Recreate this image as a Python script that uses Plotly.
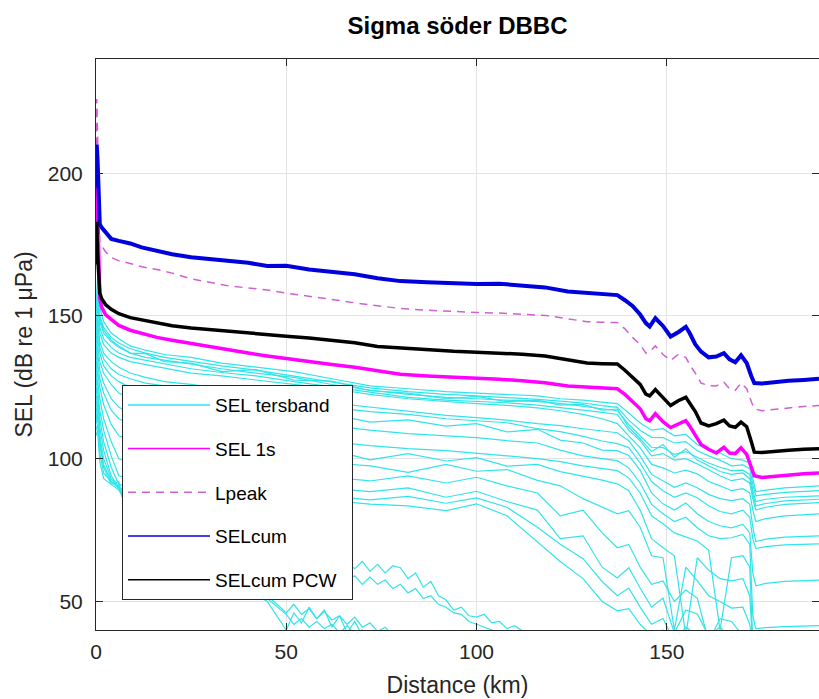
import plotly.graph_objects as go

# ---------------- data ----------------
dist_main = [0, 0.2, 0.4, 0.7, 1, 1.5, 2.5, 4, 6, 9, 12, 16, 20, 25, 30, 35, 40, 45, 50, 56,
             62, 68, 74, 80, 87, 94, 100, 106, 112, 118, 124, 129, 133, 137, 139, 141, 143, 144.5, 145.5, 147,
             149, 151, 153, 155, 156, 157.5, 159, 161, 163, 165, 166.5, 168, 169.5, 171, 172.2, 173, 175, 178, 182, 186,
             190]

sel_cum = [195, 210, 205, 195, 182, 181, 179.5, 177, 176.3, 175.4, 174, 172.8, 171.6, 170.6, 170, 169.3, 168.6, 167.5, 167.6, 166.3,
           165.6, 164.6, 163.2, 162.2, 161.8, 161.3, 161.2, 161.3, 160.8, 160, 158.6, 158, 157.6, 157.3, 155.5, 153.5, 150.5, 147.5, 146.3, 149.2,
           146.5, 142.8, 144.3, 146.2, 144, 140, 137.5, 135.5, 135.8, 137, 134.8, 133.8, 136.2, 133.5, 129, 126.5, 126.3, 126.8, 127.3, 127.6,
           128]

sel_cum_pcw = [168, 183, 172, 162, 158, 156, 154, 152.3, 150.8, 149.4, 148.6, 147.8, 146.6, 145.8, 145.2, 144.6, 143.9, 143.5, 142.9, 142.3,
               141.5, 140.6, 139.3, 138.7, 138.1, 137.6, 137.3, 137.1, 136.6, 136, 134.8, 133.5, 133.3, 133.2, 131, 128.7, 126, 122.6, 122, 124.2,
               121.3, 118.6, 120.3, 121.5, 119.5, 116.5, 112.5, 111.5, 112.3, 113.5, 111.5, 111, 112.8, 111.2, 106, 102.3, 102.2, 102.6, 103, 103.3,
               103.5]

sel_1s = [178, 203, 190, 170, 156, 153, 150.5, 148.8, 146.7, 145, 143.8, 142.5, 141.5, 140.3, 139.4, 138.2, 137, 136, 135.2, 134,
          133, 132, 130.9, 129.6, 129, 128.6, 128.4, 127.8, 127.3, 126.6, 125.5, 125, 124.8, 124.5, 122.5, 120, 117.5, 114, 113.3, 115.8,
          113, 110.9, 112, 113.3, 111.5, 108, 105, 103.3, 102, 104, 102, 101.8, 103.8, 101.5, 97, 94, 93.4, 93.8, 94.3, 94.7,
          95]

l_peak = [195, 226, 214, 190, 176, 174.5, 172.5, 170.5, 169.3, 168.4, 167.2, 166.3, 165, 163, 161.8, 160.5, 159.8, 159.1, 158, 157,
          155.8, 154.6, 153.5, 152.6, 152, 151.5, 151.2, 151, 150.6, 150.2, 149, 148, 147.8, 147.7, 145.5, 142.5, 140, 137, 137.5, 139.5,
          136.5, 134.4, 136.5, 135.5, 133, 130, 126.5, 125.6, 125.5, 126.8, 124.5, 123.9, 126.5, 124.5, 120, 117.5, 116.8, 117.2, 117.8, 118.3,
          118.6]

dist_band = [0, 0.4, 1, 2, 4, 6, 9, 13, 18, 25,
             33, 42, 52, 62, 72, 82, 92, 100, 108, 116,
             122, 128, 133, 137, 140, 143, 146, 149, 152, 155,
             158, 161, 164, 167, 170, 171.8, 172.6, 173.4, 176, 181,
             190]

band_01 = [152, 163, 153, 148, 144, 142, 139.5, 138, 136.5, 135.5,
           133.5, 132, 130.5, 128, 125.5, 124.5, 123.5, 123, 122.5, 122,
           121, 120.5, 119.8, 119.3, 116, 112.5, 110, 110.5, 108, 108.5,
           105, 103, 102, 100, 99.5, 98.5, 93, 88.5, 89, 89.8,
           90.5]
band_02 = [148, 160, 150, 146, 142.5, 140.5, 138.5, 137, 135.5, 134,
           132.5, 131, 129, 127, 124.8, 123.5, 122.5, 122, 121.5, 120.8,
           120.2, 119.5, 118.6, 118, 113.5, 110, 107.5, 107.4, 105.5, 106,
           102.8, 101, 99.5, 97.5, 97.8, 96.5, 91, 87, 87.5, 88.2,
           88.8]
band_03 = [146, 158, 149, 145, 141.5, 139.5, 137, 136.8, 134, 133.5,
           130.5, 131.2, 127.5, 127.2, 123.8, 123, 121, 121.8, 120, 120.5,
           118.8, 119, 117, 117.4, 111, 107, 102.5, 105, 100.5, 103.5,
           99.5, 97.5, 95.5, 94.5, 95, 93, 87.5, 83.5, 84.3, 85.2,
           85.8]
band_04 = [145, 157, 148, 144, 141, 139, 137, 135.5, 134.5, 133,
           131.5, 130, 128.5, 126, 124, 122.5, 121.5, 121, 120.6, 120,
           119.4, 118.5, 117.5, 116.8, 112, 108, 104, 103.9, 101.5, 102.5,
           100.4, 98.5, 97, 95.8, 96, 94.5, 89, 85, 85.8, 86.5,
           87]
band_05 = [142, 154, 146, 142, 139, 137, 135.5, 134.5, 133, 131.5,
           130.2, 129, 127, 125.2, 123.3, 121.5, 120.5, 120, 119.6, 118.8,
           118, 117, 116.2, 115.5, 110, 106.3, 101, 101.8, 99.5, 100,
           98.2, 96, 94, 92.3, 93, 91.5, 86, 82, 83, 84,
           84.6]
band_06 = [140, 150, 144, 140, 137, 135.5, 134, 133, 131.5, 130,
           129, 127.5, 126, 124.5, 122.5, 121, 120, 119.3, 118.7, 117.8,
           116.8, 115.5, 114, 112.3, 108, 103.9, 98, 96.8, 95, 96,
           94.7, 92, 90.5, 88.8, 89.5, 88, 82, 78, 79, 80,
           80.7]
band_07 = [138, 148, 141, 137, 134, 132, 130, 128.5, 127, 126,
           124.5, 123, 121, 119.5, 118, 116.5, 115.2, 114.4, 113.5, 112.3,
           111.6, 110.5, 109.8, 109.1, 106.3, 101, 94.5, 92.3, 90, 91.5,
           89.8, 87.5, 86, 85.3, 86, 84, 76, 71, 71.8, 72.5,
           73]
band_08 = [136, 146, 139, 135, 131.5, 129.5, 128, 126.5, 125.5, 124,
           122.5, 121.5, 119.5, 118, 116.5, 115.5, 114, 113.3, 112.6, 110.5,
           109.5, 107.8, 106.2, 105.3, 103.9, 98.5, 92, 88.8, 86.5, 88,
           86.3, 83.5, 81.5, 80.7, 82, 79.5, 72, 68.5, 69.2, 69.8,
           70.2]
band_09 = [133, 143, 137, 132.5, 129, 127, 125, 124, 122.5, 121.5,
           120, 118.8, 117.5, 115.5, 112.8, 113.6, 111.4, 112.3, 109.4, 110.3,
           106.5, 105.5, 103, 102.8, 101.1, 96, 88, 84.2, 82, 84.5,
           80.7, 78, 76.5, 75.8, 77, 74, 60, 55.5, 56.3, 57,
           57.5]
band_10 = [130, 140, 134, 130, 126, 123, 121, 119.5, 118.5, 117,
           116, 114.5, 113, 111.5, 110, 108.8, 108, 107.4, 106.3, 105.5,
           103, 101, 100, 99.3, 96.8, 91.5, 84, 80.7, 78, 79.5,
           75.8, 73, 72, 72.3, 73.5, 70, 45, 40.5, 40.8, 41.2,
           41.5]
band_11 = [128, 137, 131, 126.5, 121, 118, 116, 114.5, 113, 111.5,
           110, 108.8, 107.3, 106, 104.6, 103.5, 102.8, 102, 101, 100,
           99, 97.5, 96.5, 95.8, 93.3, 88, 80, 77.2, 74, 72.5,
           71.2, 68, 40, 65.3, 66, 62, 36, 35, 35, 35,
           35]
band_12 = [126, 134, 128, 123, 117, 114, 112, 110.5, 109, 108,
           106.5, 105.5, 104, 103, 99.6, 101.8, 99.2, 100.4, 97.4, 98,
           95.5, 94, 92.5, 91.2, 88.8, 82, 72, 68.8, 66, 38,
           65.3, 61, 58, 57.2, 58, 52, 34, 34, 34, 34,
           34]
band_13 = [124, 131, 125, 119, 112, 108, 106.5, 105, 104, 103,
           101.8, 101, 99.5, 98.5, 97.5, 95.2, 98, 95.6, 96.2, 92.4,
           90.5, 86, 83, 80.7, 81.8, 76, 66, 65.3, 40, 62,
           57.2, 52, 50, 47.7, 48, 42, 34, 34, 34, 34,
           34]
band_14 = [122, 128, 121, 114, 106, 100, 98.5, 97, 96, 95.5,
           95, 94.5, 94, 93.5, 92.2, 94, 91.5, 93.5, 90.5, 88,
           80, 82, 74, 68.8, 70, 62, 56, 57.2, 50, 54,
           51.2, 36, 44, 43, 38, 36, 34, 34, 34, 34,
           34]
band_15 = [120, 125, 117, 110, 101, 94, 93, 92.5, 92, 91.5,
           91, 90.5, 90, 89.5, 88.5, 89.8, 86.5, 88.6, 85, 82,
           72, 73, 62, 58.2, 61.8, 54.7, 48, 51.2, 39, 47,
           45.6, 38, 41, 37, 34, 34, 34, 34, 34, 34,
           34]
band_16 = [118, 122, 114, 106, 97, 91, 90, 89.5, 89, 88.5,
           88, 87.5, 87.3, 86.8, 85.6, 86.8, 84.4, 86.3, 83, 76,
           70, 65, 57, 52, 54.7, 48, 42, 44, 36, 41,
           38, 35, 34, 34, 34, 34, 34, 34, 34, 34,
           34]
band_17 = [116, 120, 111, 103, 94, 89.8, 88.5, 88, 87.5, 87,
           86.5, 86, 85.8, 85.3, 84.1, 83.5, 81.8, 84.2, 80, 71,
           64, 58, 50, 46.7, 47.5, 42, 38, 40, 35, 34,
           34, 34, 34, 34, 34, 34, 34, 34, 34, 34,
           34]

# high-frequency bands, read on a finer distance grid
dist_hf = [0, 0.4, 1, 2, 4, 6, 9, 13, 18, 25,
           33, 40, 45, 48, 50, 52, 54, 56, 58, 60,
           62, 64, 66, 68, 70, 72, 74, 76, 78, 80,
           82, 84, 86, 88, 90, 92, 94, 96, 98, 100,
           102, 104, 106, 108, 110, 114, 120, 190]

hf_1 = [114, 118, 108, 100, 93, 90, 86, 82, 78, 74,
        70, 67, 65, 64, 63, 62.5, 63.5, 62, 64.5, 63,
        62, 65.5, 63, 61.5, 64, 60.5, 63, 60, 62.5, 61.8,
        58, 60, 55, 57, 52, 50.5, 47, 48, 45, 44.5,
        45.5, 42.5, 43, 40.5, 41.5, 38, 35, 34]
hf_2 = [113, 116, 106, 98, 92, 89.5, 84, 79, 74, 69,
        65, 62, 60, 59, 58, 59.5, 57, 58.5, 57, 59,
        58, 60, 57.5, 59, 56, 58.5, 56, 57.5, 54.5, 56,
        53, 54.5, 51, 52, 49, 48, 46, 45.5, 43, 42,
        41, 40, 39, 37, 36, 35, 34, 34]
hf_3 = [112, 115, 105, 97, 91, 89, 82, 76, 70, 66,
        62, 56, 52, 48.5, 46, 49, 45.5, 47.5, 44, 46.5,
        43.5, 45, 42, 44.5, 41, 42.5, 39.5, 41, 38, 36,
        34, 34, 34, 34, 34, 34, 34, 34, 34, 34,
        34, 34, 34, 34, 34, 34, 34, 34]
hf_4 = [110, 112, 102, 95, 92, 90.5, 78, 72, 67, 63,
        60, 55, 51, 47.5, 45.5, 42, 44, 41, 43, 40.5,
        42, 39, 41.5, 38.5, 40, 37, 35, 34, 34, 34,
        34, 34, 34, 34, 34, 34, 34, 34, 34, 34,
        34, 34, 34, 34, 34, 34, 34, 34]
hf_5 = [108, 110, 99, 93, 91, 92, 74, 68, 64, 61,
        58, 54, 50, 44, 40, 46, 42.5, 48, 44, 47,
        41, 45, 39, 43, 38, 36, 34, 34, 34, 34,
        34, 34, 34, 34, 34, 34, 34, 34, 34, 34,
        34, 34, 34, 34, 34, 34, 34, 34]

bands = [band_01, band_02, band_03, band_04, band_05, band_06, band_07, band_08, band_09, band_10,
         band_11, band_12, band_13, band_14, band_15, band_16, band_17]
hf_bands = [hf_1, hf_2, hf_3, hf_4, hf_5]

legend_names = ["SEL tersband", "SEL 1s", "Lpeak", "SELcum", "SELcum PCW"]

# ---------------- styles ----------------
C_CYAN = "#30e4ea"
C_MAG = "#ff00ff"
C_PEAK = "#d060d0"
C_BLUE = "#0000dc"
C_BLACK = "#000000"
FONT = "Liberation Sans, Arial, sans-serif"

fig = go.Figure()

for b in bands:
    fig.add_trace(go.Scatter(x=dist_band, y=b, mode="lines", showlegend=False,
                             line=dict(color=C_CYAN, width=1.2), hoverinfo="skip"))
for b in hf_bands:
    fig.add_trace(go.Scatter(x=dist_hf, y=b, mode="lines", showlegend=False,
                             line=dict(color=C_CYAN, width=1.2), hoverinfo="skip"))

fig.add_trace(go.Scatter(x=dist_main, y=sel_1s, mode="lines", showlegend=False,
                         line=dict(color=C_MAG, width=3.5)))
fig.add_trace(go.Scatter(x=dist_main, y=l_peak, mode="lines", showlegend=False,
                         line=dict(color=C_PEAK, width=1.5, dash="8px,6px")))
fig.add_trace(go.Scatter(x=dist_main, y=sel_cum, mode="lines", showlegend=False,
                         line=dict(color=C_BLUE, width=4)))
fig.add_trace(go.Scatter(x=dist_main, y=sel_cum_pcw, mode="lines", showlegend=False,
                         line=dict(color=C_BLACK, width=3.5)))

# legend-only entries with thin lines (as in the reference legend)
leg_styles = [dict(color=C_CYAN, width=1.5),
              dict(color=C_MAG, width=1.5),
              dict(color=C_PEAK, width=1.5, dash="8px,6px"),
              dict(color=C_BLUE, width=1.5),
              dict(color=C_BLACK, width=1.5)]
for i, (nm, st) in enumerate(zip(legend_names, leg_styles)):
    label = nm + "\u00a0" * 2 if nm == "SELcum PCW" else nm
    fig.add_trace(go.Scatter(x=[None], y=[None], mode="lines", name=label,
                             legendgroup=f"g{i}", line=st))

axis_common = dict(showline=True, linecolor="#262626", linewidth=1, mirror="ticks",
                   ticks="inside", ticklen=7, tickcolor="#262626",
                   showgrid=True, gridcolor="#e3e3e3", gridwidth=1, zeroline=False,
                   tickfont=dict(family=FONT, size=21, color="#262626"))

fig.update_layout(
    width=819, height=699,
    margin=dict(l=96, r=0, t=59, b=69),
    paper_bgcolor="white", plot_bgcolor="white",
    title=dict(text="<b>Sigma söder DBBC</b>", x=0.5, xref="paper", y=1 - 26 / 699,
               yref="container", yanchor="middle",
               font=dict(family=FONT, size=24, color="#000000")),
    xaxis=dict(range=[0, 190], tickvals=[0, 50, 100, 150], ticklabelstandoff=3,
               title=dict(text="Distance (km)", standoff=14,
                          font=dict(family=FONT, size=23, color="#262626")),
               **axis_common),
    yaxis=dict(range=[40, 240], tickvals=[50, 100, 150, 200], ticklabelstandoff=8,
               title=dict(text="SEL (dB re 1 μPa)", standoff=8,
                          font=dict(family=FONT, size=23, color="#262626")),
               **axis_common),
    legend=dict(x=0.036, y=0.429, xanchor="left", yanchor="top",
                bgcolor="white", bordercolor="#262626", borderwidth=1,
                font=dict(family=FONT, size=19, color="#000000"),
                itemwidth=82, tracegroupgap=16, traceorder="grouped"),
    showlegend=True,
)

fig.write_html("out.html")
